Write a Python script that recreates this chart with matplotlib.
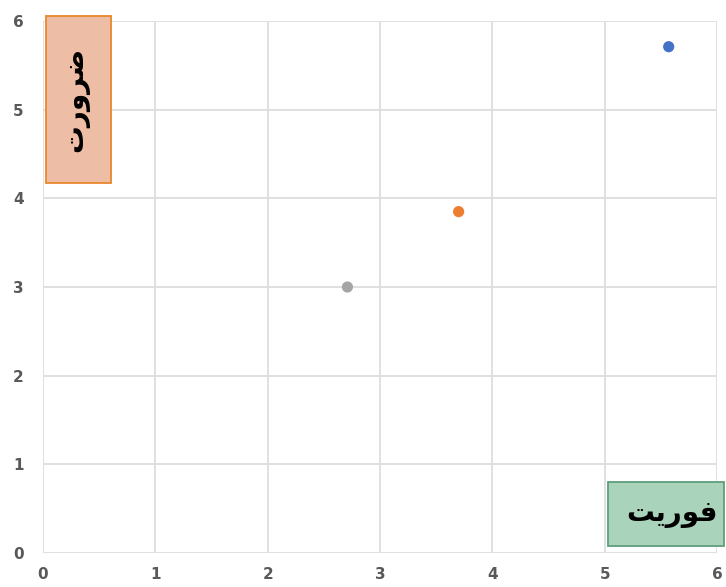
import numpy as np
import matplotlib
matplotlib.use('Agg')
import matplotlib.pyplot as plt
from matplotlib.patches import Rectangle

# data
x_vals = [5.57, 3.70, 2.71]
y_vals = [5.71, 3.85, 3.00]
colors = ['#4472C4', '#ED7D31', '#A5A5A5']
ticks = [0, 1, 2, 3, 4, 5, 6]

# Persian labels in presentation forms, visual order (matplotlib has no shaping)
label_y = '\uFE95\uFEAD\uFEED\uFEAE\uFEBF'   # ضرورت
label_x = '\uFE96\uFBFE\uFEAD\uFEEE\uFED3'   # فوریت

W, H = 726, 587
fig = plt.figure(figsize=(W / 100, H / 100), dpi=100)
ax = fig.add_axes([43 / W, 1 - 553 / H, (717 - 43) / W, (553 - 21) / H])

ax.scatter(x_vals, y_vals, c=colors, s=65, zorder=3, linewidths=0)
ax.set_xlim(0, 6)
ax.set_ylim(0, 6)
ax.set_xticks(ticks)
ax.set_yticks(ticks)
ax.grid(True, color='#DDDDDD', linewidth=1.3)
for s in ax.spines.values():
    s.set_visible(False)
ax.tick_params(length=0, labelsize=11, labelcolor='#595959')
for lab in ax.get_xticklabels() + ax.get_yticklabels():
    lab.set_fontweight('bold')
ax.tick_params(axis='y', pad=14)
ax.tick_params(axis='x', pad=10)

# boxes in pixel-based figure coords
def box(x0, y0, x1, y1, fc, ec, text, rot, dx=0):
    r = Rectangle((x0 / W, 1 - y1 / H), (x1 - x0) / W, (y1 - y0) / H,
                  transform=fig.transFigure, facecolor=fc, edgecolor=ec,
                  linewidth=1.3, zorder=5)
    fig.patches.append(r)
    fig.text(((x0 + x1) / 2 + dx) / W, 1 - (y0 + y1) / 2 / H, text, rotation=rot,
             ha='center', va='center', fontsize=20, fontweight='bold',
             family=['DejaVu Sans'], zorder=6)

box(46, 16, 111, 183, '#EEBDA5', '#E8872C', label_y, 90, dx=-3)
box(608, 482, 724, 546, '#A9D3BA', '#5E9E7C', label_x, 0, dx=6)

fig.savefig('out.png', dpi=100)
